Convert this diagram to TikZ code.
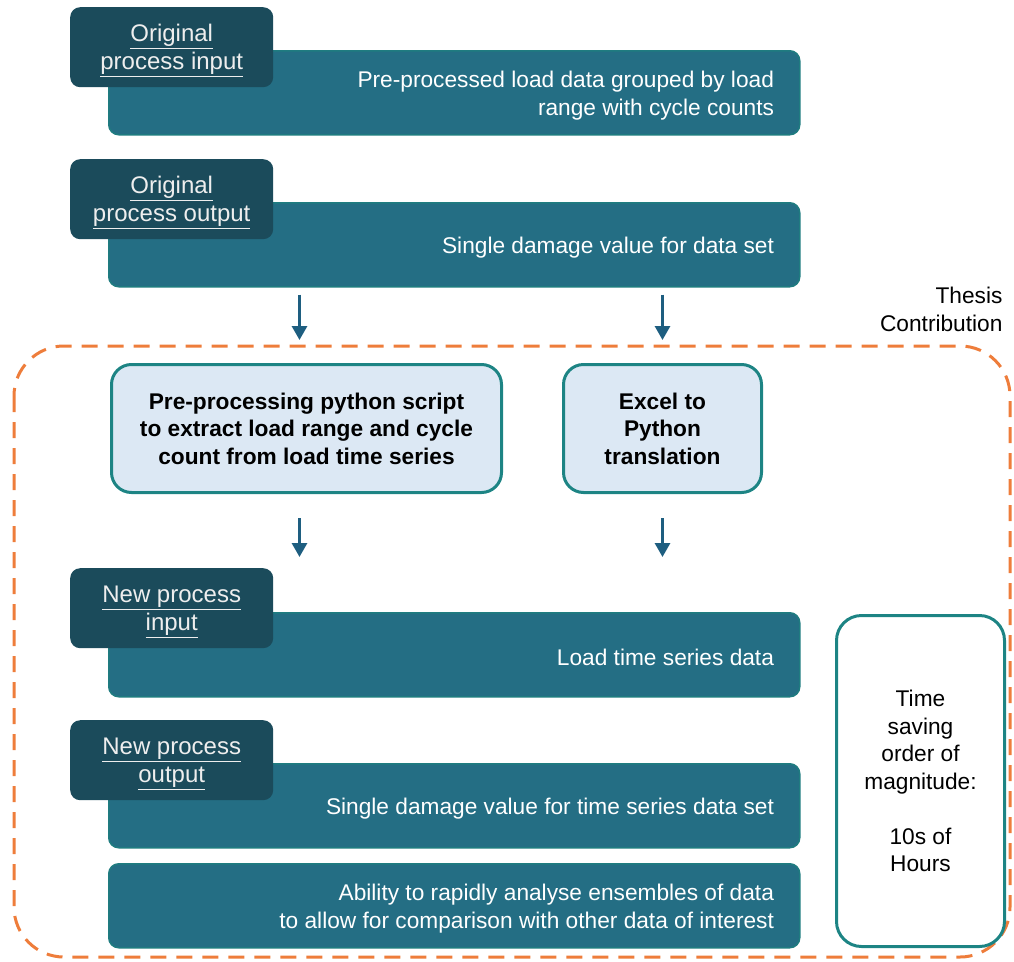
\documentclass[tikz,border=0pt]{standalone}
\usepackage{fontspec}
\setmainfont{Liberation Sans}
\usetikzlibrary{arrows.meta}
\definecolor{mainfill}{HTML}{246E84}
\definecolor{mainedge}{HTML}{1F7C80}
\definecolor{tabfill}{HTML}{1B4B5B}
\definecolor{lightfill}{HTML}{DCE8F4}
\definecolor{tealedge}{HTML}{1D8484}
\definecolor{dashorange}{HTML}{EE7D3B}
\definecolor{arrowblue}{HTML}{1E5E80}
\definecolor{tabtext}{HTML}{EEEEEE}
\newcommand{\bodyfont}{\fontsize{22.7}{28}\selectfont}
\tikzset{
  mainbox/.style={draw=mainedge, line width=1.5pt, fill=mainfill, rounded corners=10pt,
    minimum width=691pt, minimum height=84pt, anchor=north west},
  maintext/.style={align=right, text=white, font=\bodyfont, anchor=east},
  tabbox/.style={fill=tabfill, rounded corners=10pt, minimum width=203pt, minimum height=80pt,
    text depth=0pt, align=center, text=tabtext, font=\fontsize{24}{28}\selectfont, anchor=north west},
  stepbox/.style={draw=tealedge, line width=3pt, fill=lightfill, rounded corners=20pt,
    align=center, font=\bfseries\fontsize{22.7}{27.5}\selectfont, anchor=north west},
  arr/.style={draw=arrowblue, line width=3pt, -{Triangle[width=15pt,length=14pt]}},
}
% a process box with its right-aligned caption
\newcommand{\procbox}[3]{%
  \node[mainbox] (#1) at (108,#2) {};
  \node[maintext] (#1-t) at ([xshift=-23pt,yshift=-2.5pt]#1.east) {#3};
}
\begin{document}
\begin{tikzpicture}[x=1pt,y=-1pt]
\useasboundingbox (0,0) rectangle (1014,961);

% contribution frame
\draw[dashorange, line width=3pt, dash pattern=on 16pt off 10pt, rounded corners=50pt]
  (14,346) rectangle (1010,957);
\node[align=right, anchor=north east, font=\bodyfont] (thesis) at (1006,284)
  {Thesis\\Contribution};

% original process
\procbox{oi}{50}{Pre-processed load data grouped by load\\range with cycle counts}
\node[tabbox] (oit) at (70,7) {\underline{Original}\\\underline{process input}};
\procbox{oo}{202}{Single damage value for data set}
\node[tabbox] (oot) at (70,159) {\underline{Original}\\\underline{process output}};

% contribution steps
\node[stepbox, minimum width=390pt, minimum height=128pt] (pre) at (110,363)
  {Pre-processing python script\\to extract load range and cycle\\count from load time series};
\node[stepbox, minimum width=198pt, minimum height=128pt] (xl) at (562,363)
  {Excel to\\Python\\translation};

% new process
\procbox{ni}{612}{Load time series data}
\node[tabbox] (nit) at (70,568) {\underline{New process}\\\underline{input}};
\procbox{no}{763}{Single damage value for time series data set}
\node[tabbox] (not) at (70,720) {\underline{New process}\\\underline{output}};
\procbox{ab}{863}{Ability to rapidly analyse ensembles of data\\to allow for comparison with other data of interest}

% time saving
\node[draw=tealedge, line width=3pt, rounded corners=25pt, minimum width=168pt,
  minimum height=331pt, align=center, anchor=north west,
  font=\fontsize{22.7}{27.5}\selectfont] (ts) at (835,614)
  {Time\\saving\\order of\\magnitude:\\[27.5pt]10s of\\Hours};

% arrows
\draw[arr, shorten <=7pt, shorten >=23pt] ([xshift=-7pt]pre.north |- oo.south) -- ([xshift=-7pt]pre.north);
\draw[arr, shorten <=7pt, shorten >=23pt] (xl.north |- oo.south) -- (xl.north);
\draw[arr, shorten <=24pt, shorten >=55pt] ([xshift=-7pt]pre.south) -- ([xshift=-7pt]pre.south |- ni.north);
\draw[arr, shorten <=24pt, shorten >=55pt] (xl.south) -- (xl.south |- ni.north);
\end{tikzpicture}
\end{document}
